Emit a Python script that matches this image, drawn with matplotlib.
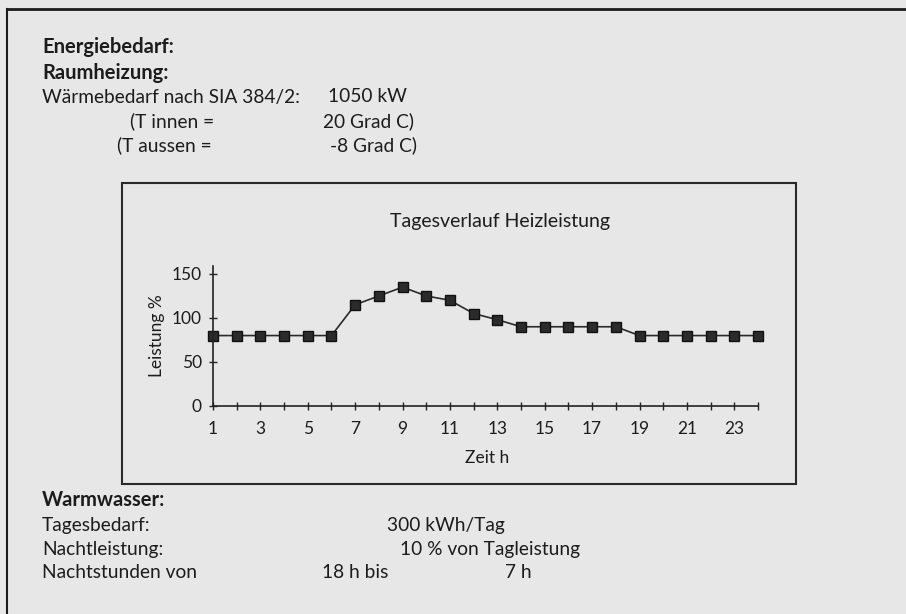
import matplotlib
matplotlib.use("Agg")
import matplotlib.pyplot as plt
from matplotlib.lines import Line2D
from matplotlib.patches import Rectangle
from matplotlib.ticker import MultipleLocator

# hourly heating load profile (percent of design load)
stunden = list(range(1, 25))
leistung = [80, 80, 80, 80, 80, 80, 115, 125, 135, 125, 120, 105,
            98, 90, 90, 90, 90, 90, 80, 80, 80, 80, 80, 80]
y_ticks = [0, 50, 100, 150]
x_tick_labels = [1, 3, 5, 7, 9, 11, 13, 15, 17, 19, 21, 23]

W, H = 906, 614
BG = "#e7e7e7"
INK = "#1c1c1c"

plt.rcParams["font.family"] = ["Lato", "DejaVu Sans"]

fig = plt.figure(figsize=(W / 100, H / 100), dpi=100, facecolor=BG)


def px(x, y):
    # pixel coords (top-left origin) -> figure fraction
    return x / W, 1 - y / H


def put(x, y, s, bold=False, size=13.8, ha="left"):
    fx, fy = px(x, y)
    fig.text(fx, fy, s, ha=ha, va="center", fontsize=size, color=INK,
             fontweight="bold" if bold else "normal")


# outer frame (only top and left edges visible)
fig.add_artist(Line2D([7 / W, 1], [1 - 9 / H, 1 - 9 / H], transform=fig.transFigure,
                      color=INK, lw=2))
fig.add_artist(Line2D([7 / W, 7 / W], [1 - 9 / H, 0], transform=fig.transFigure,
                      color=INK, lw=1.5))

# heading block
put(42, 47, "Energiebedarf:", bold=True, size=14.5)
put(42, 73, "Raumheizung:", bold=True, size=14.5)
put(42, 97, "Wärmebedarf nach SIA 384/2:")
put(328, 97, "1050 kW")
put(130, 121, "(T innen =")
put(323, 121, "20 Grad C)")
put(117, 145, "(T aussen =")
put(330, 145, "-8 Grad C)")

# chart frame
fig.add_artist(Rectangle(px(122, 484), (796 - 122) / W, (484 - 183) / H,
                         transform=fig.transFigure, fill=False,
                         edgecolor="#2a2a2a", lw=1.5))

# chart
ax_l, ax_r, ax_b, ax_t = 213, 758, 406, 266
ax = fig.add_axes([ax_l / W, 1 - ax_b / H, (ax_r - ax_l) / W, (ax_b - ax_t) / H])
ax.set_facecolor("none")
ax.plot(stunden, leistung, color="#2a2a2a", lw=1.2, marker="s", markersize=6.5,
        markerfacecolor="#2b2b2b", markeredgecolor="#111111", clip_on=False)
ax.set_xlim(1, 24)
ax.set_ylim(0, 159)
ax.set_xticks(x_tick_labels)
ax.xaxis.set_minor_locator(MultipleLocator(1))
ax.set_yticks(y_ticks)
for side in ["top", "right"]:
    ax.spines[side].set_visible(False)
for side in ["left", "bottom"]:
    ax.spines[side].set_color("#222222")
    ax.spines[side].set_linewidth(1.2)
ax.tick_params(axis="both", which="both", direction="inout", length=6, width=1,
               color="#222222", labelsize=12.5, labelcolor=INK)
ax.tick_params(axis="x", pad=8)
ax.tick_params(axis="y", pad=5)
ax.set_ylabel("Leistung %", fontsize=12.5, color=INK, labelpad=5)

put(487, 458, "Zeit h", size=12.5, ha="center")
put(500, 222, "Tagesverlauf Heizleistung", size=14, ha="center")

# hot water block
put(42, 500, "Warmwasser:", bold=True, size=14.5)
put(42, 525, "Tagesbedarf:")
put(387, 525, "300 kWh/Tag")
put(42, 549, "Nachtleistung:")
put(400, 549, "10 % von Tagleistung")
put(42, 573, "Nachtstunden von")
put(322, 573, "18 h bis")
put(505, 573, "7 h")

fig.savefig("out.png", dpi=100, facecolor=BG)
